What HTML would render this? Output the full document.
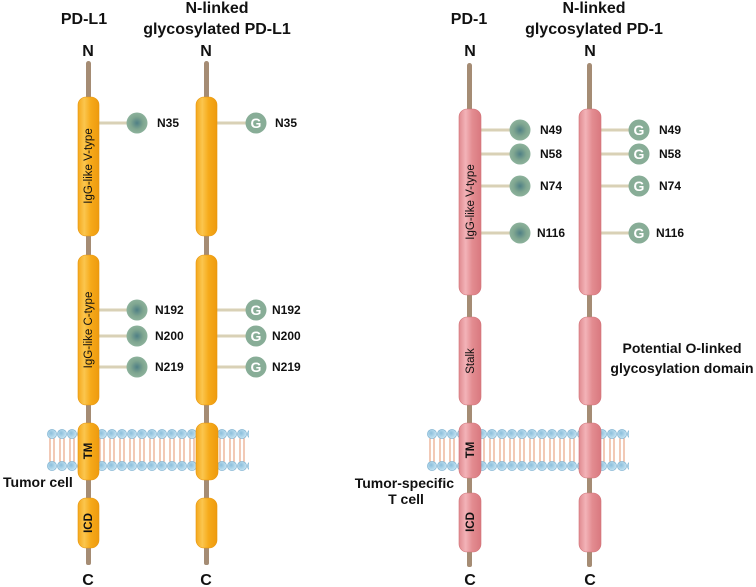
<!DOCTYPE html>
<html><head><meta charset="utf-8"><style>
html,body{margin:0;padding:0;background:#fff;}
svg{display:block;font-family:"Liberation Sans",Arial,sans-serif;font-weight:bold;}
</style></head><body>
<svg width="756" height="587" viewBox="0 0 756 587" xmlns="http://www.w3.org/2000/svg">
<defs>
<linearGradient id="og" x1="0" x2="1" y1="0" y2="0">
<stop offset="0" stop-color="#F4A81C"/><stop offset="0.3" stop-color="#FBC64E"/><stop offset="0.6" stop-color="#F6AA1A"/><stop offset="1" stop-color="#EE9A0E"/></linearGradient>
<linearGradient id="pg" x1="0" x2="1" y1="0" y2="0">
<stop offset="0" stop-color="#E08A90"/><stop offset="0.3" stop-color="#F3B3B8"/><stop offset="0.6" stop-color="#E38C91"/><stop offset="1" stop-color="#D9797F"/></linearGradient>
<radialGradient id="ball" cx="0.5" cy="0.5" r="0.5">
<stop offset="0" stop-color="#4F7F85"/><stop offset="0.6" stop-color="#7FA690"/><stop offset="1" stop-color="#8DB29C"/></radialGradient>
<radialGradient id="bead" cx="0.4" cy="0.4" r="0.6">
<stop offset="0" stop-color="#8CBFDC"/><stop offset="1" stop-color="#C4E3F2"/></radialGradient>
<pattern id="mem" x="47" y="429" width="10" height="42" patternUnits="userSpaceOnUse">
<line x1="3" y1="9" x2="3" y2="33" stroke="#E07848" stroke-width="0.8"/>
<line x1="7" y1="9" x2="7" y2="33" stroke="#E07848" stroke-width="0.8"/>
<circle cx="5" cy="5" r="4.6" fill="url(#bead)" stroke="#7AAFCF" stroke-width="0.6"/>
<circle cx="5" cy="37" r="4.6" fill="url(#bead)" stroke="#7AAFCF" stroke-width="0.6"/>
</pattern>
</defs>

<rect x="47" y="429" width="202" height="42" fill="url(#mem)"/>
<rect x="427" y="429" width="202" height="42" fill="url(#mem)"/>

<g fill="#A58C74">
<rect x="86" y="61" width="5" height="40" rx="2.5"/><rect x="86" y="230" width="5" height="30" rx="2"/>
<rect x="86" y="400" width="5" height="28" rx="2"/><rect x="86" y="475" width="5" height="28" rx="2"/>
<rect x="86" y="543" width="5" height="22" rx="2"/>
<rect x="204" y="61" width="5" height="40" rx="2.5"/><rect x="204" y="230" width="5" height="30" rx="2"/>
<rect x="204" y="400" width="5" height="28" rx="2"/><rect x="204" y="475" width="5" height="28" rx="2"/>
<rect x="204" y="543" width="5" height="22" rx="2"/>
<rect x="467" y="63" width="5" height="50" rx="2.5"/><rect x="467" y="290" width="5" height="32" rx="2"/>
<rect x="467" y="400" width="5" height="28" rx="2"/><rect x="467" y="473" width="5" height="25" rx="2"/>
<rect x="467" y="547" width="5" height="20" rx="2"/>
<rect x="587" y="63" width="5" height="50" rx="2.5"/><rect x="587" y="290" width="5" height="32" rx="2"/>
<rect x="587" y="400" width="5" height="28" rx="2"/><rect x="587" y="473" width="5" height="25" rx="2"/>
<rect x="587" y="547" width="5" height="20" rx="2"/>
</g>

<g fill="#D9D1B6">
<rect x="99" y="121.5" width="30" height="3"/><rect x="217" y="121.5" width="30" height="3"/>
<rect x="99" y="308.5" width="30" height="3"/><rect x="217" y="308.5" width="30" height="3"/>
<rect x="99" y="334.5" width="30" height="3"/><rect x="217" y="334.5" width="30" height="3"/>
<rect x="99" y="365.5" width="30" height="3"/><rect x="217" y="365.5" width="30" height="3"/>
<rect x="481" y="128.5" width="32" height="3"/><rect x="601" y="128.5" width="32" height="3"/>
<rect x="481" y="152.5" width="32" height="3"/><rect x="601" y="152.5" width="32" height="3"/>
<rect x="481" y="184.5" width="32" height="3"/><rect x="601" y="184.5" width="32" height="3"/>
<rect x="481" y="231.5" width="32" height="3"/><rect x="601" y="231.5" width="32" height="3"/>
</g>

<g fill="url(#og)" stroke="#E8960C" stroke-width="0.6">
<rect x="78" y="97" width="21" height="139" rx="8"/><rect x="196" y="97" width="21" height="139" rx="8"/>
<rect x="78" y="255" width="21" height="150" rx="8"/><rect x="196" y="255" width="21" height="150" rx="8"/>
<rect x="78" y="423" width="21" height="57" rx="8"/><rect x="196" y="423" width="22" height="57" rx="8"/>
<rect x="78" y="498" width="21" height="50" rx="8"/><rect x="196" y="498" width="21" height="50" rx="8"/>
</g>
<g fill="url(#pg)" stroke="#D27378" stroke-width="0.6">
<rect x="459" y="109" width="22" height="186" rx="8"/><rect x="579" y="109" width="22" height="186" rx="8"/>
<rect x="459" y="317" width="22" height="88" rx="8"/><rect x="579" y="317" width="22" height="88" rx="8"/>
<rect x="459" y="423" width="22" height="55" rx="8"/><rect x="579" y="423" width="22" height="55" rx="8"/>
<rect x="459" y="493" width="22" height="59" rx="8"/><rect x="579" y="493" width="22" height="59" rx="8"/>
</g>

<g fill="url(#ball)">
<circle cx="137" cy="123" r="10.5"/><circle cx="137" cy="310" r="10.5"/><circle cx="137" cy="336" r="10.5"/><circle cx="137" cy="367" r="10.5"/>
<circle cx="520" cy="130" r="10.5"/><circle cx="520" cy="154" r="10.5"/><circle cx="520" cy="186" r="10.5"/><circle cx="520" cy="233" r="10.5"/>
</g>
<g fill="#88AD97">
<circle cx="256" cy="123" r="10.5"/><circle cx="256" cy="310" r="10.5"/><circle cx="256" cy="336" r="10.5"/><circle cx="256" cy="367" r="10.5"/>
<circle cx="639" cy="130" r="10.5"/><circle cx="639" cy="154" r="10.5"/><circle cx="639" cy="186" r="10.5"/><circle cx="639" cy="233" r="10.5"/>
</g>
<g fill="#fff" font-size="14" text-anchor="middle">
<text x="256" y="128">G</text><text x="256" y="315">G</text><text x="256" y="341">G</text><text x="256" y="372">G</text>
<text x="639" y="135">G</text><text x="639" y="159">G</text><text x="639" y="191">G</text><text x="639" y="238">G</text>
</g>

<g fill="#111" font-size="12">
<text x="157" y="127">N35</text><text x="275" y="127">N35</text>
<text x="155" y="314">N192</text><text x="272" y="314">N192</text>
<text x="155" y="340">N200</text><text x="272" y="340">N200</text>
<text x="155" y="371">N219</text><text x="272" y="371">N219</text>
<text x="540" y="134">N49</text><text x="659" y="134">N49</text>
<text x="540" y="158">N58</text><text x="659" y="158">N58</text>
<text x="540" y="190">N74</text><text x="659" y="190">N74</text>
<text x="537" y="237">N116</text><text x="656" y="237">N116</text>
</g>

<g fill="#111" font-size="11.5" text-anchor="middle" font-weight="normal">
<text transform="translate(92,166) rotate(-90)">IgG-like V-type</text>
<text transform="translate(92,330) rotate(-90)">IgG-like C-type</text>
<text transform="translate(92,451) rotate(-90)" font-weight="bold">TM</text>
<text transform="translate(92,523) rotate(-90)" font-weight="bold">ICD</text>
<text transform="translate(474,202) rotate(-90)">IgG-like V-type</text>
<text transform="translate(474,361) rotate(-90)">Stalk</text>
<text transform="translate(474,450) rotate(-90)" font-weight="bold">TM</text>
<text transform="translate(474,522) rotate(-90)" font-weight="bold">ICD</text>
</g>

<g fill="#111" font-size="16" text-anchor="middle">
<text x="84" y="24">PD-L1</text>
<text x="217" y="13">N-linked</text><text x="217" y="34">glycosylated PD-L1</text>
<text x="469" y="24">PD-1</text>
<text x="594" y="13">N-linked</text><text x="594" y="34">glycosylated PD-1</text>
<text x="88" y="56">N</text><text x="206" y="56">N</text><text x="470" y="56">N</text><text x="590" y="56">N</text>
<text x="88" y="585">C</text><text x="206" y="585">C</text><text x="470" y="585">C</text><text x="590" y="585">C</text>
</g>
<g fill="#111" font-size="14">
<text x="3" y="487">Tumor cell</text>
<text x="454" y="488" text-anchor="end">Tumor-specific</text>
<text x="406" y="504" text-anchor="middle">T cell</text>
<text x="682" y="353" text-anchor="middle">Potential O-linked</text>
<text x="682" y="373" text-anchor="middle">glycosylation domain</text>
</g>
</svg>
</body></html>
